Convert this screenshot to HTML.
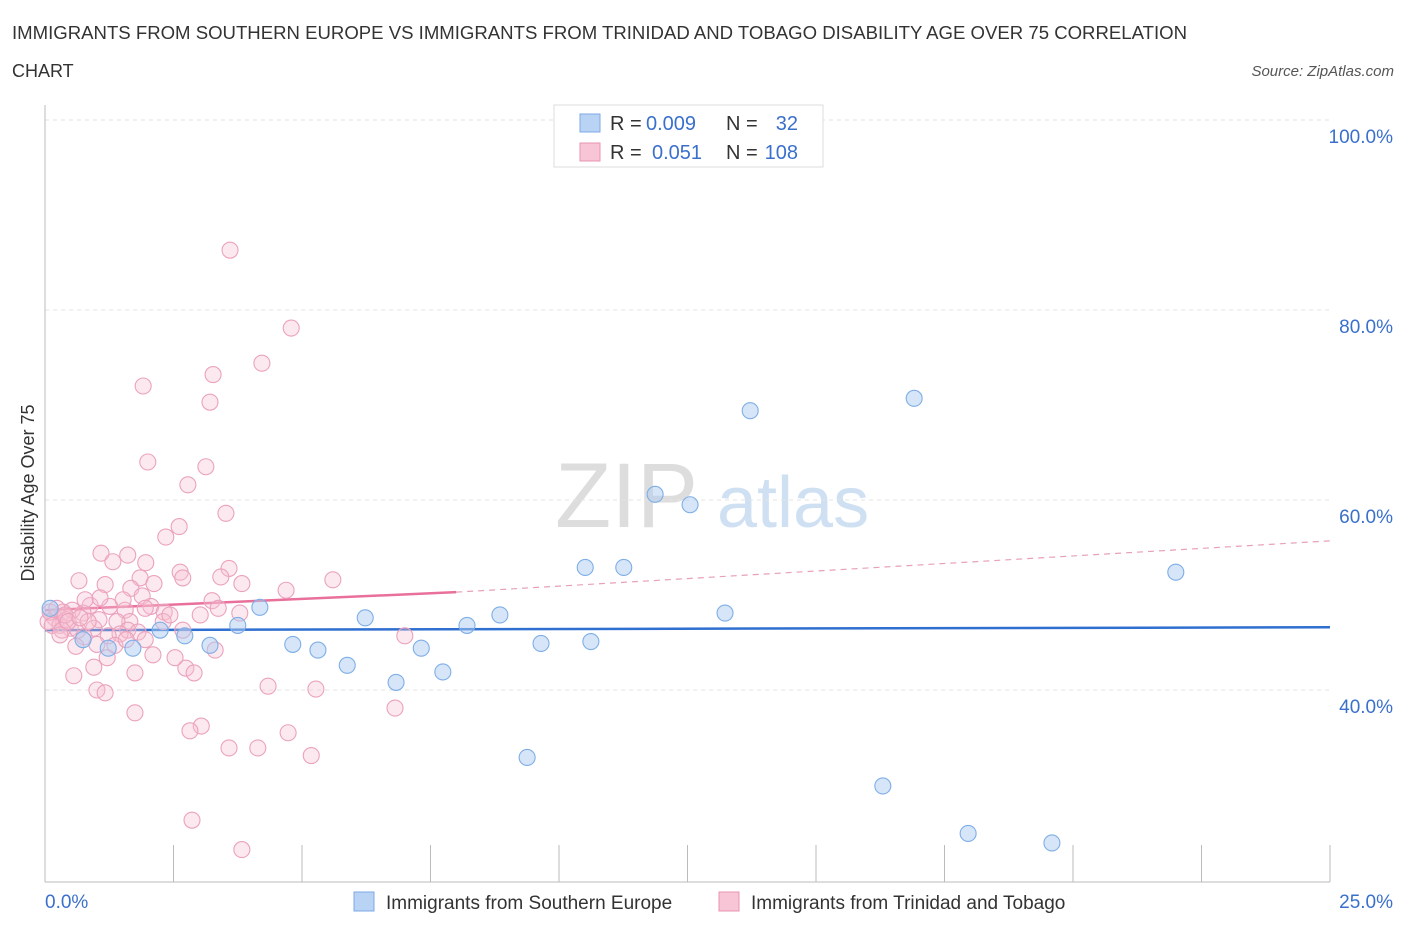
<!DOCTYPE html>
<html><head><meta charset="utf-8"><style>
body{margin:0;background:#fff;font-family:"Liberation Sans",sans-serif}
svg text{font-family:"Liberation Sans",sans-serif}
</style></head><body>
<svg id="chart" width="1406" height="930" xmlns="http://www.w3.org/2000/svg">
<text x="12" y="39" font-size="18" fill="#333" textLength="1175" lengthAdjust="spacingAndGlyphs">IMMIGRANTS FROM SOUTHERN EUROPE VS IMMIGRANTS FROM TRINIDAD AND TOBAGO DISABILITY AGE OVER 75 CORRELATION</text>
<text x="12" y="77" font-size="18" fill="#333">CHART</text>
<text x="1394" y="76" font-size="15" font-style="italic" fill="#555" text-anchor="end">Source: ZipAtlas.com</text>
<text transform="translate(34,493) rotate(-90)" font-size="18" fill="#333" text-anchor="middle">Disability Age Over 75</text>
<text x="555" y="527" font-size="92" font-family="Liberation Serif" fill="#ddd">ZIP</text>
<text x="717" y="527" font-size="72" fill="#cfe0f3">atlas</text>
<g id="grid"></g><g id="axes"></g><g id="trend"></g><g id="points"></g>
<g>
<rect x="554" y="105" width="269" height="62" fill="#fff" stroke="#ddd"/>
<rect x="580" y="114" width="20" height="18" fill="#b9d3f5" stroke="#7ea9e4"/>
<text x="610" y="130" font-size="20" fill="#333">R =</text>
<text x="646" y="130" font-size="20" fill="#3a70cc">0.009</text>
<text x="726" y="130" font-size="20" fill="#333">N =</text>
<text x="798" y="130" font-size="20" fill="#3a70cc" text-anchor="end">32</text>
<rect x="580" y="143" width="20" height="18" fill="#f8c5d6" stroke="#e894b3"/>
<text x="610" y="159" font-size="20" fill="#333">R =</text>
<text x="652" y="159" font-size="20" fill="#3a70cc">0.051</text>
<text x="726" y="159" font-size="20" fill="#333">N =</text>
<text x="798" y="159" font-size="20" fill="#3a70cc" text-anchor="end">108</text>
</g>
<g>
<rect x="354" y="892" width="20" height="19" fill="#b9d3f5" stroke="#7ea9e4"/>
<text x="386" y="909" font-size="19" fill="#333">Immigrants from Southern Europe</text>
<rect x="719" y="892" width="20" height="19" fill="#f8c5d6" stroke="#e894b3"/>
<text x="751" y="909" font-size="19" fill="#333">Immigrants from Trinidad and Tobago</text>
</g>
</svg>
<script>
const xTickLabels=["0.0%","25.0%"];
const yTicks=[40,60,80,100];
const blueX=[0.10,0.74,1.23,1.71,2.24,2.72,3.21,3.75,4.18,4.82,5.31,5.88,6.23,6.83,7.32,7.74,8.21,8.85,9.38,9.65,10.51,10.62,11.26,11.87,12.55,13.23,13.72,16.30,16.91,17.96,19.59,22.00];
const blueY=[48.6,45.3,44.4,44.4,46.3,45.7,44.7,46.8,48.7,44.8,44.2,42.6,47.6,40.8,44.4,41.9,46.8,47.9,32.9,44.9,52.9,45.1,52.9,60.6,59.5,48.1,69.4,29.9,70.7,24.9,23.9,52.4];
const pinkX=[3.60,4.79,4.22,3.27,1.91,3.21,2.00,3.13,2.78,3.52,2.61,2.35,1.09,1.61,3.58,1.96,2.63,2.68,3.42,1.32,1.85,.66,3.83,5.60,4.69,1.17,2.12,1.67,3.25,1.89,1.26,2.06,1.56,2.32,.88,3.37,3.79,.74,.53,1.05,1.65,1.40,.35,.19,.06,.29,.49,.64,1.61,1.81,1.46,2.30,2.68,.41,.95,1.23,2.10,.76,1.01,.60,7.00,3.31,1.21,.95,.56,1.75,2.53,2.74,2.90,4.34,5.27,1.01,1.17,1.75,3.04,2.82,4.73,3.58,4.14,5.18,2.86,3.83,6.81,.10,.14,.23,.33,.39,.45,.84,.68,1.36,1.58,1.95,.29,1.07,1.52,.78,1.95,2.43,3.02];
const pinkY=[86.3,78.1,74.4,73.2,72.0,70.3,64.0,63.5,61.6,58.6,57.2,56.1,54.4,54.2,52.8,53.4,52.4,51.8,51.9,53.5,51.8,51.5,51.2,51.6,50.5,51.1,51.2,50.7,49.4,49.9,48.8,48.8,48.4,48.2,48.9,48.6,48.1,48.1,48.4,47.4,47.2,47.2,48.2,47.6,47.2,46.8,46.5,46.3,46.3,46.1,45.9,47.2,46.3,47.4,46.5,45.7,43.7,45.6,44.8,44.6,45.7,44.2,43.4,42.4,41.5,41.8,43.4,42.3,41.8,40.4,40.1,40.0,39.7,37.6,36.2,35.7,35.5,33.9,33.9,33.1,26.3,23.2,38.1,48.2,46.8,48.6,46.3,47.9,47.2,47.2,47.6,44.7,45.3,45.3,45.8,49.7,49.5,49.5,48.6,47.9,47.9];
const blueTrend=[46.3,46.6];
const pinkTrendX=[0,8.0,25];
const pinkTrendY=[48.4,50.3,55.7];

const NS="http://www.w3.org/2000/svg";
const sx=v=>45+v/25*1285;
const sy=v=>500-(v-60)*9.5;
function mk(t,a,p){const e=document.createElementNS(NS,t);for(const k in a)e.setAttribute(k,a[k]);document.getElementById(p).appendChild(e);return e;}
yTicks.forEach(t=>{
 const g=mk('line',{x1:45,x2:1330,y1:sy(t),y2:sy(t),stroke:'#e3e3e3','stroke-dasharray':'4,4'},'grid');
 
 
 const l=mk('text',{x:1393,y:sy(t)+23,'font-size':19,fill:'#3a70cc','text-anchor':'end'},'axes');
 l.textContent=t.toFixed(1)+'%';
 
 
});
let ax=mk('line',{x1:45,x2:1330,y1:882,y2:882,stroke:'#bbb'},'axes');


let ay=mk('line',{x1:45,x2:45,y1:105,y2:882,stroke:'#bbb'},'axes');


for(let i=0;i<=10;i++){const t=mk('line',{x1:sx(i*2.5),x2:sx(i*2.5),y1:845,y2:882,stroke:'#bbb'},'axes');
 
 }
[[0,'start',45],[25,'end',1393]].forEach((d,i)=>{const l=mk('text',{x:d[2],y:908,'font-size':19,fill:'#3a70cc','text-anchor':d[1]},'axes');l.textContent=xTickLabels[i];
 
 });
let bt=mk('line',{x1:sx(0),x2:sx(25),y1:sy(blueTrend[0]),y2:sy(blueTrend[1]),stroke:'#2f6fd0','stroke-width':2.5},'trend');


let ps=mk('line',{x1:sx(pinkTrendX[0]),x2:sx(pinkTrendX[1]),y1:sy(pinkTrendY[0]),y2:sy(pinkTrendY[1]),stroke:'#e8709a','stroke-width':2.5},'trend');


let pd=mk('line',{x1:sx(pinkTrendX[1]),x2:sx(pinkTrendX[2]),y1:sy(pinkTrendY[1]),y2:sy(pinkTrendY[2]),stroke:'#e8a0b8','stroke-width':1.2,'stroke-dasharray':'6,5'},'trend');


pinkX.forEach((x,i)=>{const c=mk('circle',{cx:sx(x),cy:sy(pinkY[i]),r:8,fill:'#f6bfd2','fill-opacity':0.35,stroke:'#eba2bd','stroke-width':1.1},'points');
 
 });
blueX.forEach((x,i)=>{const c=mk('circle',{cx:sx(x),cy:sy(blueY[i]),r:8,fill:'#aecbf2','fill-opacity':0.5,stroke:'#7eaee6','stroke-width':1.1},'points');
 
 });
</script>
</body></html>
